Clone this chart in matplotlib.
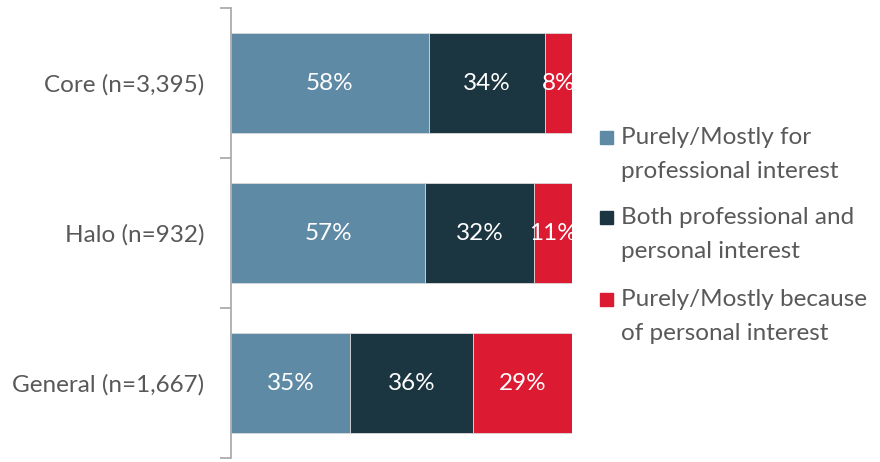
import matplotlib.pyplot as plt
from matplotlib.patches import Rectangle

plt.rcParams['font.family'] = ['Lato', 'DejaVu Sans']

# data
groups = ["Core (n=3,395)", "Halo (n=932)", "General (n=1,667)"]
series_names = ["Purely/Mostly for\nprofessional interest",
                "Both professional and\npersonal interest",
                "Purely/Mostly because\nof personal interest"]
professional = [58, 57, 35]
both = [34, 32, 36]
personal = [8, 11, 29]

colors = ["#5F8AA5", "#1B3541", "#DC1A32"]
text_gray = "#595959"
W, H = 880, 462

fig = plt.figure(figsize=(8.8, 4.62), dpi=100)
ax = fig.add_axes([231 / W, 4 / H, 341 / W, 450 / H])

ypos = list(range(len(groups)))[::-1]
left = [0] * len(groups)
for vals, col in zip([professional, both, personal], colors):
    ax.barh(ypos, vals, left=left, height=0.667, color=col,
            edgecolor="#d9d9d9", linewidth=0.6)
    for y, v, l in zip(ypos, vals, left):
        ax.text(l + v / 2, y, f"{v}%", ha="center", va="center",
                color="white", fontsize=17.5)
    left = [a + b for a, b in zip(left, vals)]

ax.set_xlim(0, 100)
ax.set_ylim(-0.5, 2.5)
ax.set_xticks([])
ax.set_yticks(ypos)
ax.set_yticklabels(groups, fontsize=17.5, color=text_gray)
ax.tick_params(axis="y", which="major", length=0, pad=19)
ax.set_yticks([-0.5, 0.5, 1.5, 2.5], minor=True)
ax.tick_params(axis="y", which="minor", length=8, width=1.2,
               color="#a6a6a6", direction="out")
for s in ["top", "right", "bottom"]:
    ax.spines[s].set_visible(False)
ax.spines["left"].set_color("#a6a6a6")
ax.spines["left"].set_linewidth(1.2)

# legend drawn by hand: square lines up with the first text line
for i, (name, col) in enumerate(zip(series_names, colors)):
    y0 = 137 + i * 81
    fig.patches.append(Rectangle((600 / W, 1 - (y0 + 6.5) / H), 13 / W, 13 / H,
                                 transform=fig.transFigure, color=col))
    for k, line in enumerate(name.split("\n")):
        fig.text(621 / W, 1 - (y0 + k * 34) / H, line, ha="left", va="center",
                 fontsize=17.5, color=text_gray)

fig.savefig("out.png", dpi=100)
